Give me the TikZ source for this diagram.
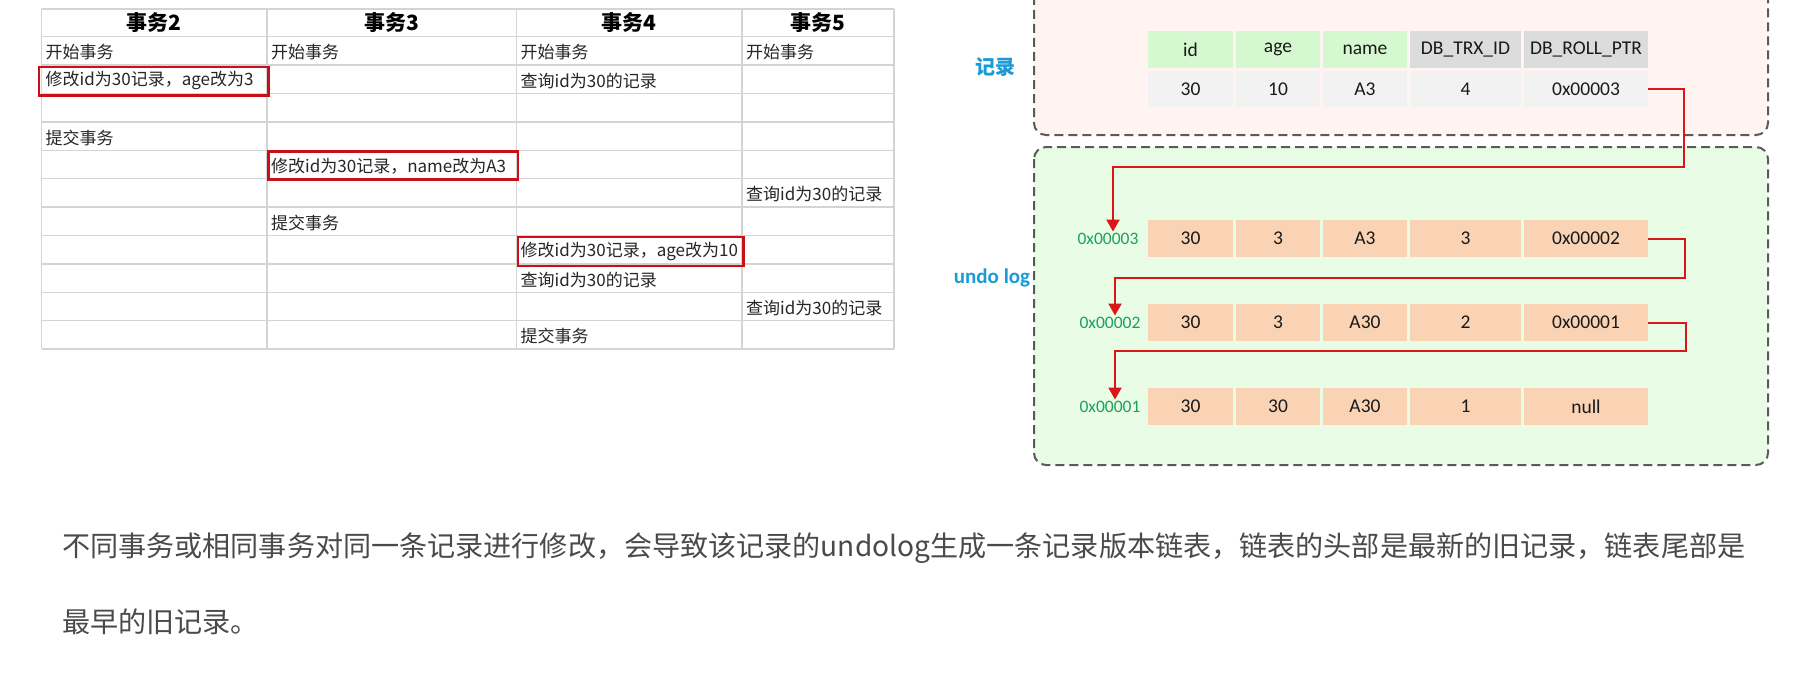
\documentclass[tikz,border=0pt]{standalone}
\usepackage{fontspec}
\setmainfont{Noto Sans CJK SC}
\newfontfamily\calfont{Carlito}
\usetikzlibrary{arrows.meta}
\definecolor{gridgray}{RGB}{212,212,212}
\definecolor{boxred}{RGB}{200,16,24}
\definecolor{ptrred}{RGB}{216,24,24}
\definecolor{labblue}{RGB}{26,155,215}
\definecolor{addrgreen}{RGB}{30,160,90}
\definecolor{recpink}{RGB}{255,244,242}
\definecolor{logmint}{RGB}{232,252,230}
\definecolor{hdgreen}{RGB}{213,248,208}
\definecolor{hdgray}{RGB}{220,220,220}
\definecolor{rowgray}{RGB}{242,242,242}
\definecolor{peach}{RGB}{249,211,180}
\definecolor{dashgray}{RGB}{90,90,90}
\definecolor{bodytext}{RGB}{74,74,74}
\tikzset{
  cell/.style={anchor=west, inner sep=0pt, text=black!85, font=\fontsize{17}{20}\selectfont},
  head/.style={inner sep=0pt, font=\bfseries\fontsize{21}{24}\selectfont},
  hilite/.style={draw=boxred, line width=2.6pt},
  fld/.style={inner sep=0pt, minimum height=37pt, text=black!90, font=\calfont\fontsize{19.5}{22}\selectfont},
  addr/.style={inner sep=1pt, text=addrgreen, font=\calfont\fontsize{17.5}{20}\selectfont},
  area/.style={draw=dashgray, line width=2pt, dash pattern=on 9pt off 5pt, rounded corners=12pt},
  ptr/.style={draw=ptrred, line width=2pt, -{Triangle[length=12pt,width=13pt]}},
}
\begin{document}
\begin{tikzpicture}[x=1pt, y=-1pt]
  \useasboundingbox (0,0) rectangle (1795,685);
  \clip (0,0) rectangle (1795,685);
  \fill[white] (0,0) rectangle (1795,685);

  % transaction table
  \draw[gridgray, line width=1.5pt]
    (41.5,9) -- (894,9) (41.5,36.7) -- (894,36.7) (41.5,65.1) -- (894,65.1)
    (41.5,93.5) -- (894,93.5) (41.5,121.9) -- (894,121.9) (41.5,150.3) -- (894,150.3)
    (41.5,178.7) -- (894,178.7) (41.5,207.1) -- (894,207.1) (41.5,235.5) -- (894,235.5)
    (41.5,263.9) -- (894,263.9) (41.5,292.3) -- (894,292.3) (41.5,320.7) -- (894,320.7)
    (41.5,349.1) -- (894,349.1)
    (41.5,9) -- (41.5,349.1) (267,9) -- (267,349.1) (516.5,9) -- (516.5,349.1)
    (742,9) -- (742,349.1) (894,9) -- (894,349.1);
  \node[head] (T2) at (154.2,23) {事务2};
  \node[head] (T3) at (391.7,23) {事务3};
  \node[head] (T4) at (629.2,23) {事务4};
  \node[head] (T5) at (818,23) {事务5};
  \node[cell] (b2) at (45.5,52.4) {开始事务};
  \node[cell] (b3) at (271,52.4) {开始事务};
  \node[cell] (b4) at (520.5,52.4) {开始事务};
  \node[cell] (b5) at (746,52.4) {开始事务};
  \node[cell] (m2) at (45.5,80.8) {修改id为30记录，age改为3};
  \node[cell] (q4a) at (520.5,80.8) {查询id为30的记录};
  \node[cell] (c2) at (45.5,137.6) {提交事务};
  \node[cell] (m3) at (271,166) {修改id为30记录，name改为A3};
  \node[cell] (q5a) at (746,194.4) {查询id为30的记录};
  \node[cell] (c3) at (271,222.8) {提交事务};
  \node[cell] (m4) at (520.5,251.2) {修改id为30记录，age改为10};
  \node[cell] (q4b) at (520.5,279.6) {查询id为30的记录};
  \node[cell] (q5b) at (746,308) {查询id为30的记录};
  \node[cell] (c4) at (520.5,336.4) {提交事务};
  \draw[hilite] (39,67) rectangle (268.5,95.5);
  \draw[hilite] (268.5,151.5) rectangle (518,179.5);
  \draw[hilite] (518,237) rectangle (743.5,266);

  % record and undo log
  \draw[area, fill=recpink] (1034,-30) rectangle (1768,135);
  \draw[area, fill=logmint] (1034,147) rectangle (1768,465);
  \node[text=labblue, font=\bfseries\fontsize{20}{22}\selectfont] (reclab) at (995,67) {记录};
  \node[text=labblue, font=\calfont\bfseries\fontsize{21}{24}\selectfont] (loglab) at (992,278) {undo log};

  \node[fld, fill=hdgreen, minimum width=85] (hid) at (1190.5,49.5) {id};
  \node[fld, fill=hdgreen, minimum width=84] (hage) at (1278,49.5) {age};
  \node[fld, fill=hdgreen, minimum width=84] (hname) at (1365,49.5) {name};
  \node[fld, fill=hdgray, minimum width=111] (htrx) at (1465.5,49.5) {DB\_TRX\_ID};
  \node[fld, fill=hdgray, minimum width=124] (hptr) at (1586,49.5) {DB\_ROLL\_PTR};
  \node[fld, fill=rowgray, minimum width=85, minimum height=36] (rid) at (1190.5,89) {30};
  \node[fld, fill=rowgray, minimum width=84, minimum height=36] (rage) at (1278,89) {10};
  \node[fld, fill=rowgray, minimum width=84, minimum height=36] (rname) at (1365,89) {A3};
  \node[fld, fill=rowgray, minimum width=111, minimum height=36] (rtrx) at (1465.5,89) {4};
  \node[fld, fill=rowgray, minimum width=124, minimum height=36] (rptr) at (1586,89) {0x00003};

  \node[addr] (a3) at (1108,238.5) {0x00003};
  \node[fld, fill=peach, minimum width=85] (u3id) at (1190.5,238.5) {30};
  \node[fld, fill=peach, minimum width=84] (u3age) at (1278,238.5) {3};
  \node[fld, fill=peach, minimum width=84] (u3name) at (1365,238.5) {A3};
  \node[fld, fill=peach, minimum width=111] (u3trx) at (1465.5,238.5) {3};
  \node[fld, fill=peach, minimum width=124] (u3ptr) at (1586,238.5) {0x00002};

  \node[addr] (a2) at (1110,322.5) {0x00002};
  \node[fld, fill=peach, minimum width=85] (u2id) at (1190.5,322.5) {30};
  \node[fld, fill=peach, minimum width=84] (u2age) at (1278,322.5) {3};
  \node[fld, fill=peach, minimum width=84] (u2name) at (1365,322.5) {A30};
  \node[fld, fill=peach, minimum width=111] (u2trx) at (1465.5,322.5) {2};
  \node[fld, fill=peach, minimum width=124] (u2ptr) at (1586,322.5) {0x00001};

  \node[addr] (a1) at (1110,406.5) {0x00001};
  \node[fld, fill=peach, minimum width=85] (u1id) at (1190.5,406.5) {30};
  \node[fld, fill=peach, minimum width=84] (u1age) at (1278,406.5) {30};
  \node[fld, fill=peach, minimum width=84] (u1name) at (1365,406.5) {A30};
  \node[fld, fill=peach, minimum width=111] (u1trx) at (1465.5,406.5) {1};
  \node[fld, fill=peach, minimum width=124] (u1ptr) at (1586,406.5) {null};

  \coordinate (k3) at (1684,167);
  \coordinate (k2) at (1685,278);
  \coordinate (k1) at (1686,351);
  \draw[ptr] (rptr.east) -| (k3) -| ([xshift=5]a3.north);
  \draw[ptr] (u3ptr.east) -| (k2) -| ([xshift=5]a2.north);
  \draw[ptr] (u2ptr.east) -| (k1) -| ([xshift=5]a1.north);

  % caption
  \node[anchor=west, inner sep=0pt, text=bodytext, font=\fontsize{28.1}{33}\selectfont] (note1) at (62,548)
    {不同事务或相同事务对同一条记录进行修改，会导致该记录的undolog生成一条记录版本链表，链表的头部是最新的旧记录，链表尾部是};
  \node[anchor=west, inner sep=0pt, text=bodytext, font=\fontsize{28.1}{33}\selectfont] (note2) at (62,622)
    {最早的旧记录。};
\end{tikzpicture}
\end{document}
